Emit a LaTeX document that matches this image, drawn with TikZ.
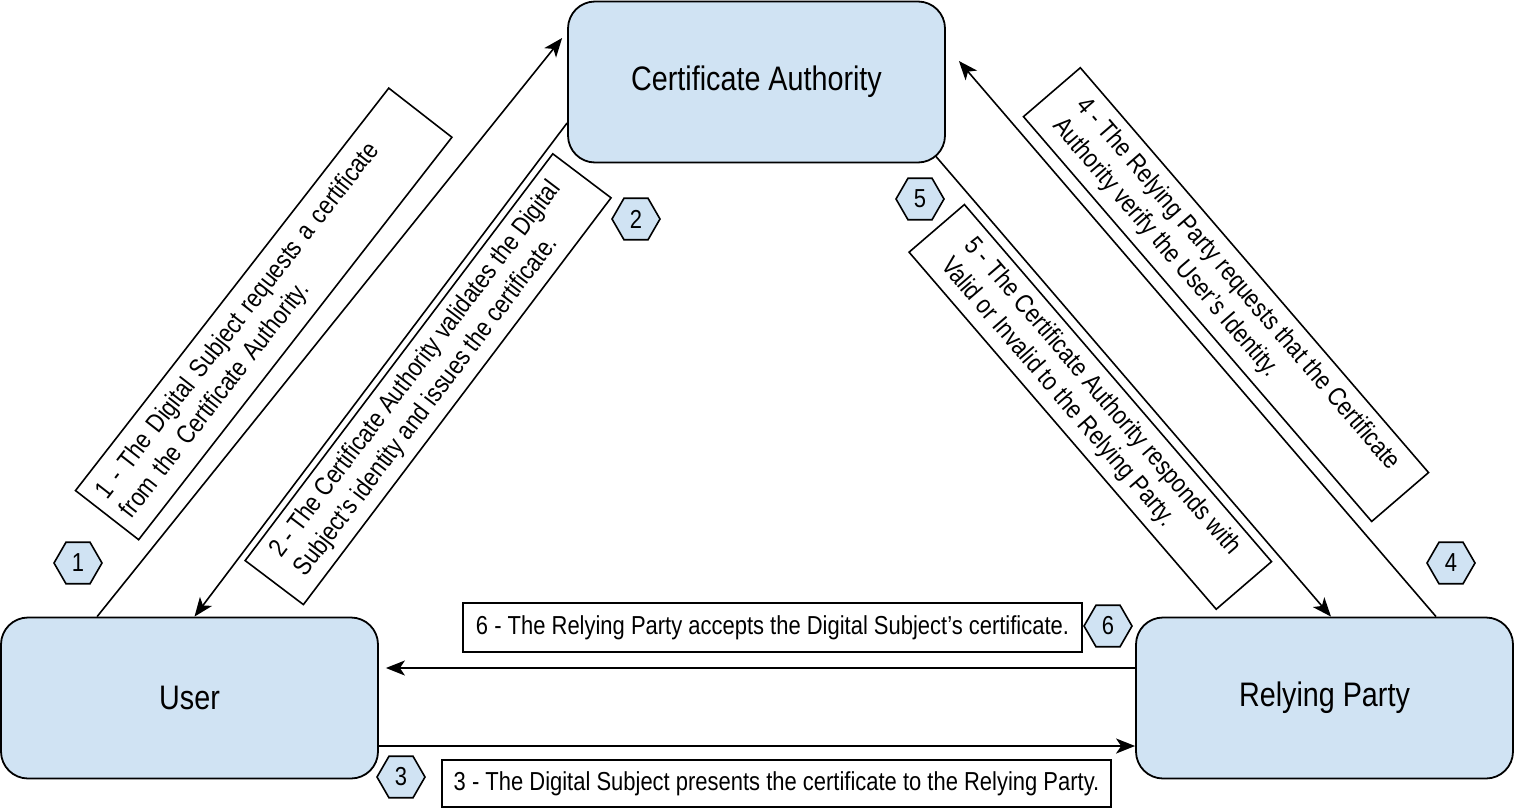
\documentclass[tikz,border=0pt]{standalone}
\usepackage{fontspec}
\setmainfont[FakeStretch=0.845]{Liberation Sans}
\usetikzlibrary{shapes.geometric,arrows.meta}
\definecolor{partyblue}{RGB}{208,227,243}
\begin{document}
\begin{tikzpicture}[x=1pt,y=-1pt,
    party/.style={draw,line width=1.8pt,fill=partyblue,rounded corners=27pt,
      minimum width=377pt,minimum height=161pt,font=\fontsize{34}{40}\selectfont},
    note/.style={draw,line width=1.6pt,fill=white,inner sep=0pt,align=left,
      font=\fontsize{26}{31}\selectfont},
    badge/.style={draw,line width=1.6pt,fill=partyblue,regular polygon,
      regular polygon sides=6,minimum size=48pt,inner sep=0pt,font=\fontsize{26}{30}\selectfont},
    flow/.style={line width=1.6pt,-{Stealth[length=19pt,width=15pt,inset=5pt]}}]
  \useasboundingbox (0,0) rectangle (1515,809);
  \node[party] (ca) at (756.5,82) {Certificate Authority};
  \node[party] (user) at (189.5,698) {User};
  \node[party] (rp) at (1324.5,698) {Relying Party};

  \draw[flow] ([xshift=97pt]user.north west) -- ([xshift=-5pt,yshift=44pt]ca.west);
  \draw[flow] ([yshift=-41pt]ca.west) -- ([xshift=5pt]user.north);
  \draw[flow] ([xshift=111.5pt]rp.north) -- ([xshift=13pt,yshift=21pt]ca.east);
  \draw[flow] ([xshift=-10pt,yshift=7pt]ca.south east) -- ([xshift=6.5pt]rp.north);
  \draw[flow] ([yshift=30pt]rp.west) -- ([xshift=7pt,yshift=30pt]user.east);
  \draw[flow] ([yshift=-48pt]user.east) -- ([yshift=-48pt]rp.west);

  \node[note,rotate=52.1,text width=486pt,inner xsep=12pt,minimum height=80pt] (step1) at (263.7,313.9)
    {1 - The Digital Subject requests a certificate\\from the Certificate Authority.};
  \node[note,rotate=52.9,minimum width=510pt,minimum height=73pt] (step2) at (428.1,379.2)
    {2 - The Certificate Authority validates the Digital\\Subject’s identity and issues the certificate.};
  \node[note,rotate=-49.3,minimum width=534pt,minimum height=75pt] (step4) at (1226,294.6)
    {4 - The Relying Party requests that the Certificate\\Authority verify the User’s Identity.};
  \node[note,rotate=-49.3,minimum width=471pt,minimum height=73pt] (step5) at (1090.3,406.9)
    {5 - The Certificate Authority responds with\\Valid or Invalid to the Relying Party.};
  \node[note,minimum width=619pt,minimum height=49pt] (step6) at (772.5,627.5)
    {6 - The Relying Party accepts the Digital Subject’s certificate.};
  \node[note,minimum width=669pt,minimum height=47pt] (step3) at (776.5,783.5)
    {3 - The Digital Subject presents the certificate to the Relying Party.};

  \node[badge] (num1) at (78,563) {1};
  \node[badge] (num2) at (636,219) {2};
  \node[badge] (num3) at (401,777) {3};
  \node[badge] (num4) at (1451,563) {4};
  \node[badge] (num5) at (920,199) {5};
  \node[badge] (num6) at (1108,626) {6};
\end{tikzpicture}
\end{document}
